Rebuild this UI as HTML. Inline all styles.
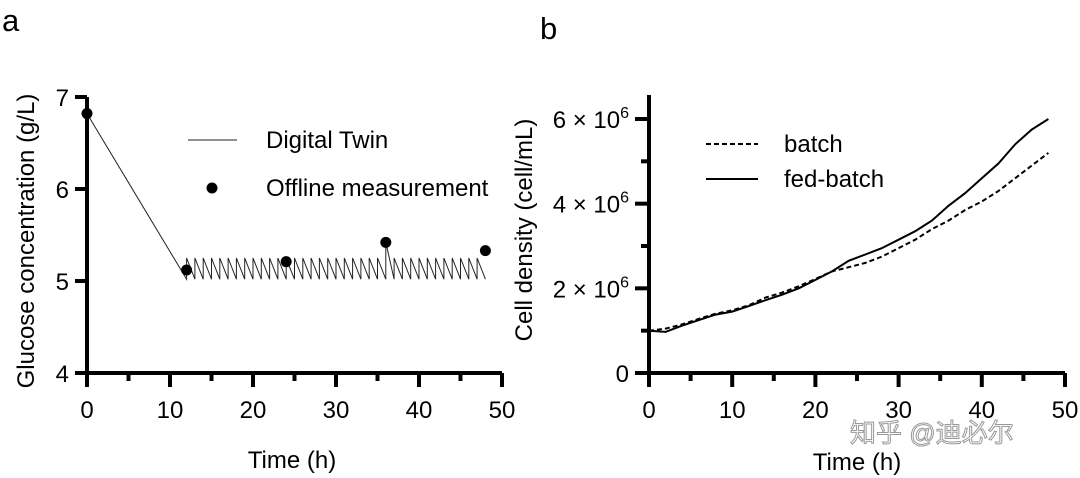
<!DOCTYPE html>
<html><head><meta charset="utf-8"><style>
html,body{margin:0;padding:0;background:#fff;}
svg{display:block;font-family:"Liberation Sans",Arial,sans-serif;}
</style></head><body>
<svg id="chart" width="1080" height="478" viewBox="0 0 1080 478" xmlns="http://www.w3.org/2000/svg">
<text x="2" y="31" font-size="31">a</text>
<text x="540" y="39" font-size="31">b</text>
<g id="pa"></g>
<g id="pb"></g>
<text x="850" y="442" font-size="26" fill="#fff" stroke="#999" stroke-width="1" font-family="'Liberation Sans','Noto Sans CJK SC',sans-serif">知乎 @迪必尔</text>
</svg>
<script>
// Panel a data
const offlineTimes = [0, 12, 24, 36, 48];
const offlineValues = [6.82, 5.12, 5.21, 5.42, 5.33];
const feedTimes = [12,13,14,15,16,17,18,19,20,21,22,23,24,25,26,27,28,29,30,31,32,33,34,35,36,37,38,39,40,41,42,43,44,45,46,47];
const feedPeaks = [5.25,5.25,5.25,5.25,5.25,5.25,5.25,5.25,5.25,5.25,5.25,5.25,5.24,5.25,5.25,5.25,5.25,5.25,5.25,5.25,5.25,5.25,5.25,5.25,5.42,5.25,5.25,5.25,5.25,5.25,5.25,5.25,5.25,5.25,5.25,5.25];
const feedTroughs = [5.02,5.02,5.02,5.02,5.02,5.02,5.02,5.02,5.02,5.02,5.02,5.02,5.02,5.02,5.02,5.02,5.02,5.02,5.02,5.02,5.02,5.02,5.02,5.02,5.02,5.02,5.02,5.02,5.02,5.02,5.02,5.02,5.02,5.02,5.02,5.02];
const aXTicks = [0,10,20,30,40,50];
const aYTicks = [4,5,6,7];
// Panel b data
const bTimes = [0,2,4,6,8,10,12,14,16,18,20,22,24,26,28,30,32,34,36,38,40,42,44,46,48];
const fedBatch = [1.0,0.97,1.12,1.25,1.38,1.45,1.58,1.72,1.85,2.0,2.2,2.4,2.65,2.8,2.95,3.15,3.35,3.6,3.95,4.25,4.6,4.95,5.4,5.75,6.0];
const batch = [1.0,1.05,1.15,1.28,1.4,1.48,1.6,1.78,1.9,2.05,2.22,2.4,2.5,2.6,2.75,2.95,3.15,3.4,3.6,3.85,4.05,4.3,4.6,4.9,5.2];
const bXTicks = [0,10,20,30,40,50];
const bYTicks = [0,2,4,6];
const bYLabels = ["0","2 × 10","4 × 10","6 × 10"];

const NS="http://www.w3.org/2000/svg";
function mk(parent,tag,attrs){const e=document.createElementNS(NS,tag);for(const k in attrs)e.setAttribute(k,attrs[k]);parent.appendChild(e);return e;}
const FS=24;

// Panel a
const pa=document.getElementById('pa');
const ax=t=>87+t*(502-87)/50;
const ay=v=>373-(v-4)*(373-97)/3;
let pts=[[0,6.82]];
for(let i=0;i<feedTimes.length;i++){pts.push([feedTimes[i],feedTroughs[i]]);pts.push([feedTimes[i],feedPeaks[i]]);}
pts.push([48,5.02]);
const la=mk(pa,'path',{d:'M'+pts.map(p=>ax(p[0]).toFixed(1)+','+ay(p[1]).toFixed(1)).join('L'),fill:'none',stroke:'#222','stroke-width':1});


offlineTimes.forEach((t,i)=>{const c=mk(pa,'circle',{cx:ax(t),cy:ay(offlineValues[i]),r:5.5,fill:'#000'});

});
const aAxis=mk(pa,'path',{d:`M${ax(0)},${ay(7)}V${ay(4)}H${ax(50)}`,fill:'none',stroke:'#000','stroke-width':4});


aYTicks.forEach(v=>{mk(pa,'line',{x1:ax(0)-12,x2:ax(0),y1:ay(v),y2:ay(v),stroke:'#000','stroke-width':4});
const t=mk(pa,'text',{x:ax(0)-18,y:ay(v)+9,'font-size':FS,'text-anchor':'end'});t.textContent=v;

});
for(let t=0;t<=50;t+=5){const major=t%10===0;mk(pa,'line',{x1:ax(t),x2:ax(t),y1:ay(4),y2:ay(4)+(major?14:8),stroke:'#000','stroke-width':4});}
aXTicks.forEach(v=>{const t=mk(pa,'text',{x:ax(v),y:418,'font-size':FS,'text-anchor':'middle'});t.textContent=v;

});
let tt=mk(pa,'text',{x:292,y:468,'font-size':FS,'text-anchor':'middle'});tt.textContent='Time (h)';


tt=mk(pa,'text',{x:0,y:0,'font-size':FS,'text-anchor':'middle',transform:'translate(34,241) rotate(-90)'});tt.textContent='Glucose concentration (g/L)';


mk(pa,'line',{x1:188,x2:237,y1:140,y2:140,stroke:'#222','stroke-width':1});
tt=mk(pa,'text',{x:266,y:148,'font-size':FS});tt.textContent='Digital Twin';


mk(pa,'circle',{cx:212,cy:188,r:5.5,fill:'#000'});
tt=mk(pa,'text',{x:266,y:196,'font-size':FS});tt.textContent='Offline measurement';



// Panel b
const pb=document.getElementById('pb');
const bx=t=>649+t*(1065-649)/50;
const by=v=>373-v*(373-119)/6;
function line(xs,ys,dash,name){const p=mk(pb,'path',{d:'M'+xs.map((t,i)=>bx(t).toFixed(1)+','+by(ys[i]).toFixed(1)).join('L'),fill:'none',stroke:'#000','stroke-width':2,'stroke-dasharray':dash});

}
line(bTimes,batch,'5,3','batch-line');
line(bTimes,fedBatch,'none','fed-batch-line');
const bAxis=mk(pb,'path',{d:`M${bx(0)},95V${by(0)}H${bx(50)}`,fill:'none',stroke:'#000','stroke-width':4});


for(let v=0;v<=6;v++){mk(pb,'line',{x1:bx(0)-(v%2===0?14:8),x2:bx(0),y1:by(v),y2:by(v),stroke:'#000','stroke-width':4});}
bYTicks.forEach((v,i)=>{const t=mk(pb,'text',{x:bx(0)-20,y:by(v)+9,'font-size':FS,'text-anchor':'end'});
if(i===0)t.textContent=bYLabels[i];else{t.textContent=bYLabels[i];const s=mk(t,'tspan',{dy:-10,'font-size':16});s.textContent='6';}

});
for(let t=0;t<=50;t+=5){const major=t%10===0;mk(pb,'line',{x1:bx(t),x2:bx(t),y1:by(0),y2:by(0)+(major?14:8),stroke:'#000','stroke-width':4});}
bXTicks.forEach(v=>{const t=mk(pb,'text',{x:bx(v),y:418,'font-size':FS,'text-anchor':'middle'});t.textContent=v;

});
tt=mk(pb,'text',{x:857,y:470,'font-size':FS,'text-anchor':'middle'});tt.textContent='Time (h)';


tt=mk(pb,'text',{x:0,y:0,'font-size':FS,'text-anchor':'middle',transform:'translate(532,230) rotate(-90)'});tt.textContent='Cell density (cell/mL)';


mk(pb,'line',{x1:706,x2:758,y1:144,y2:144,stroke:'#000','stroke-width':2,'stroke-dasharray':'5,3'});
tt=mk(pb,'text',{x:784,y:152,'font-size':FS});tt.textContent='batch';


mk(pb,'line',{x1:706,x2:758,y1:179,y2:179,stroke:'#000','stroke-width':2});
tt=mk(pb,'text',{x:784,y:187,'font-size':FS});tt.textContent='fed-batch';


</script>
</body></html>
